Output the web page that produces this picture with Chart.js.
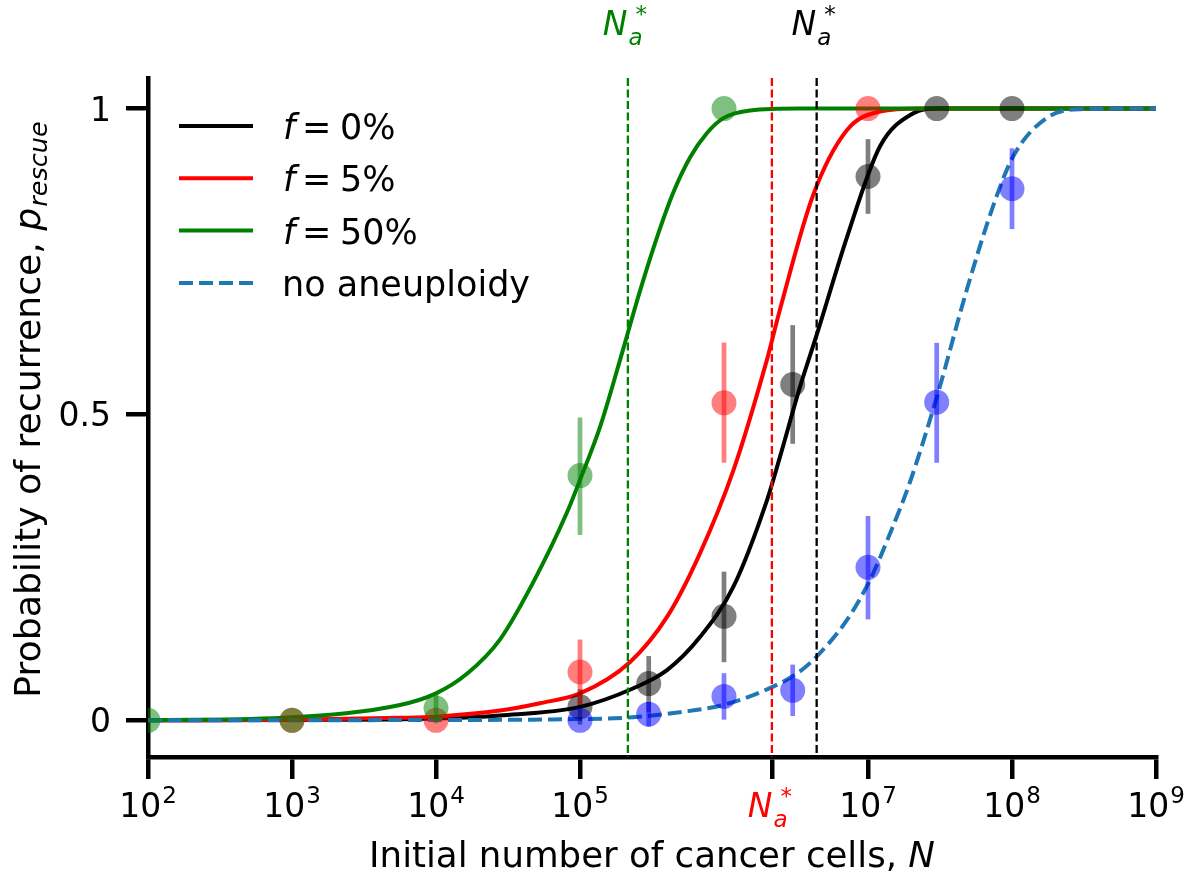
<!DOCTYPE html>
<html><head><meta charset="utf-8">
<script src="https://cdn.jsdelivr.net/npm/chart.js@4.4.1/dist/chart.umd.min.js"></script>
<style>html,body{margin:0;padding:0;background:#fff}</style>
</head><body>
<canvas id="c" width="1195" height="879"></canvas>
<script>
const FONT = '"DejaVu Sans", sans-serif';

// ---- fitted curves (N, p) ----
const curveF0_N = [1e2, 1e3, 1e4, 2.78e4, 1e5, 2.33e5, 4.02e5, 6.81e5, 1.16e6, 1.99e6, 2.45e6, 3.37e6, 4.43e6, 7.15e6, 1.21e7, 2.05e7, 3e7, 1e8, 1e9];
const curveF0_P = [0.0, 0.0005, 0.003, 0.008, 0.022, 0.052, 0.082, 0.136, 0.218, 0.36, 0.431, 0.545, 0.632, 0.79, 0.938, 0.992, 1.0, 1.0, 1.0];

const curveF5_N = [1e2, 1e3, 5.62e3, 1e4, 2.78e4, 5.27e4, 1e5, 2.22e5, 4.02e5, 6.81e5, 1.16e6, 1.99e6, 2.45e6, 4.15e6, 7.15e6, 1.21e7, 2.3e7, 1e8, 1e9];
const curveF5_P = [0.0, 0.001, 0.004, 0.006, 0.016, 0.028, 0.044, 0.095, 0.169, 0.273, 0.408, 0.59, 0.672, 0.858, 0.965, 0.995, 1.0, 1.0, 1.0];

const curveF50_N = [1e2, 1e3, 5.62e3, 1e4, 1.64e4, 2.78e4, 4.72e4, 8.13e4, 1e5, 1.38e5, 1.99e5, 2.61e5, 3.43e5, 4.43e5, 5.81e5, 7.62e5, 9.84e5, 1.52e6, 3.37e6, 1e7, 1e8, 1e9];
const curveF50_P = [0.0, 0.005, 0.025, 0.044, 0.076, 0.132, 0.225, 0.34, 0.393, 0.48, 0.606, 0.702, 0.79, 0.862, 0.92, 0.96, 0.984, 0.997, 1.0, 1.0, 1.0, 1.0];

const curveNoAn_N = [1e2, 1e4, 1e5, 2.33e5, 5.62e5, 9.84e5, 2.19e6, 3.37e6, 4.43e6, 7.15e6, 1.03e7, 1.42e7, 1.96e7, 3.01e7, 4.87e7, 7.38e7, 1.02e8, 1.75e8, 2.96e8, 5.62e8, 1e9];
const curveNoAn_P = [0.0, 0.0005, 0.002, 0.005, 0.015, 0.025, 0.055, 0.08, 0.105, 0.164, 0.229, 0.305, 0.39, 0.529, 0.705, 0.84, 0.922, 0.985, 0.999, 1.0, 1.0];

// ---- simulation points with error bars ----
const ptsF0_N  = [1e5, 3e5, 1e6, 3e6, 1e7, 3e7, 1e8];
const ptsF0_P  = [0.022, 0.06, 0.17, 0.549, 0.889, 1.0, 1.0];
const ptsF0_Lo = [-0.007, 0.013, 0.095, 0.452, 0.828, 1.0, 1.0];
const ptsF0_Hi = [0.051, 0.105, 0.243, 0.646, 0.95, 1.0, 1.0];

const ptsF5_N  = [1e3, 1e4, 1e5, 1e6, 1e7];
const ptsF5_P  = [0.0, 0.0, 0.079, 0.519, 1.0];
const ptsF5_Lo = [0.0, 0.0, 0.026, 0.421, 1.0];
const ptsF5_Hi = [0.0, 0.0, 0.132, 0.6175, 1.0];

const ptsF50_N  = [1e2, 1e3, 1e4, 1e5, 1e6];
const ptsF50_P  = [0.0, 0.0, 0.02, 0.40, 1.0];
const ptsF50_Lo = [0.0, 0.0, -0.005, 0.303, 1.0];
const ptsF50_Hi = [0.0, 0.0, 0.045, 0.495, 1.0];

const ptsNoAn_N  = [1e5, 3e5, 1e6, 3e6, 1e7, 3e7, 1e8];
const ptsNoAn_P  = [0.0, 0.01, 0.039, 0.049, 0.25, 0.52, 0.869];
const ptsNoAn_Lo = [0.0, -0.01, 0.001, 0.007, 0.165, 0.421, 0.803];
const ptsNoAn_Hi = [0.0, 0.03, 0.077, 0.091, 0.334, 0.617, 0.935];

// ---- thresholds N_a* ----
const naStarF50 = 2.15e5;
const naStarF5  = 2.15e6;
const naStarF0  = 4.4e6;

// ---- ticks ----
const xTickValues = [1e2, 1e3, 1e4, 1e5, naStarF5, 1e7, 1e8, 1e9];
const xTickExponents = ['2', '3', '4', '5', null, '7', '8', '9'];
const yTickValues = [0, 0.5, 1];
const yTickLabels = ['0', '0.5', '1'];

const legendLabels = ['0%', '5%', '50%', 'no aneuploidy'];

function zip(N, P) { return N.map((n, i) => ({x: n, y: P[i]})); }

const errSpecs = {};
function curveDS(N, P, color, order, dash) {
  return {type: 'line', data: zip(N, P), borderColor: color, borderWidth: 4, pointRadius: 0,
    cubicInterpolationMode: 'monotone', fill: false, order: order, clip: 0,
    borderDash: dash || [], borderCapStyle: 'butt'};
}
function ptsDS(N, P, color, order) {
  return {type: 'line', data: zip(N, P), showLine: false, pointRadius: 12.5, pointBorderWidth: 0,
    pointBackgroundColor: color, borderColor: color, backgroundColor: color, order: order, clip: 0};
}

const datasets = [
  curveDS(curveF0_N, curveF0_P, '#000000', 13),
  curveDS(curveF5_N, curveF5_P, '#ff0000', 12),
  curveDS(curveF50_N, curveF50_P, '#008000', 11),
  curveDS(curveNoAn_N, curveNoAn_P, '#1f77b4', 10, [14, 6]),
  ptsDS(ptsF0_N, ptsF0_P, 'rgba(0,0,0,0.5)', 4),
  ptsDS(ptsF5_N, ptsF5_P, 'rgba(255,0,0,0.5)', 3),
  ptsDS(ptsF50_N, ptsF50_P, 'rgba(0,128,0,0.5)', 2),
  ptsDS(ptsNoAn_N, ptsNoAn_P, 'rgba(0,0,255,0.5)', 1),
];
errSpecs[4] = {N: ptsF0_N, lo: ptsF0_Lo, hi: ptsF0_Hi, color: 'rgba(0,0,0,0.5)', first: true};
errSpecs[5] = {N: ptsF5_N, lo: ptsF5_Lo, hi: ptsF5_Hi, color: 'rgba(255,0,0,0.5)'};
errSpecs[6] = {N: ptsF50_N, lo: ptsF50_Lo, hi: ptsF50_Hi, color: 'rgba(0,128,0,0.5)'};
errSpecs[7] = {N: ptsNoAn_N, lo: ptsNoAn_Lo, hi: ptsNoAn_Hi, color: 'rgba(0,0,255,0.5)'};

function setFont(ctx, size, italic) { ctx.font = (italic ? 'italic ' : '') + size + 'px ' + FONT; }
function txt(ctx, s, x, y, size, italic, color, align) {
  setFont(ctx, size, italic); ctx.fillStyle = color; ctx.textAlign = align || 'left';
  ctx.textBaseline = 'alphabetic'; ctx.fillText(s, x, y); return ctx.measureText(s).width;
}
function drawNaStar(ctx, cx, b, color) {
  setFont(ctx, 33, true); const wN = ctx.measureText('N').width;
  setFont(ctx, 23, false); const wS = ctx.measureText('*').width;
  const x0 = cx - (wN + 8 + wS) / 2;
  txt(ctx, 'N', x0, b, 33, true, color);
  txt(ctx, 'a', x0 + wN + 1, b + 10, 23, true, color);
  txt(ctx, '*', x0 + wN + 8, b - 13, 23, false, color);
}
function drawPow10(ctx, cx, b, e) {
  setFont(ctx, 33, false); const w10 = ctx.measureText('10').width;
  setFont(ctx, 23, false); const we = ctx.measureText(e).width;
  const x0 = cx - (w10 + we + 1) / 2;
  txt(ctx, '10', x0, b, 33, false, '#000');
  txt(ctx, e, x0 + w10 + 1, b - 14, 23, false, '#000');
}

function drawVLines(chart) {
  const ctx = chart.ctx, xs = chart.scales.x, a = chart.chartArea;
  [[naStarF50, '#008000'], [naStarF5, '#ff0000'], [naStarF0, '#000000']].forEach(([v, c]) => {
    const x = xs.getPixelForValue(v);
    ctx.save(); ctx.strokeStyle = c; ctx.lineWidth = 2.3; ctx.setLineDash([8, 3.5]);
    ctx.beginPath(); ctx.moveTo(x, a.top); ctx.lineTo(x, a.bottom); ctx.stroke(); ctx.restore();
  });
}
function drawErr(chart, spec) {
  const ctx = chart.ctx, xs = chart.scales.x, ys = chart.scales.y;
  ctx.save(); ctx.strokeStyle = spec.color; ctx.lineWidth = 4.7; ctx.lineCap = 'butt';
  spec.N.forEach((n, i) => {
    if (spec.hi[i] - spec.lo[i] <= 0) return;
    const x = xs.getPixelForValue(n);
    ctx.beginPath(); ctx.moveTo(x, ys.getPixelForValue(spec.lo[i])); ctx.lineTo(x, ys.getPixelForValue(spec.hi[i])); ctx.stroke();
  });
  ctx.restore();
}

const custom = {
  id: 'custom',
  beforeDatasetDraw(chart, args) {
    const spec = errSpecs[args.index];
    if (!spec) return;
    if (spec.first) drawVLines(chart);
    drawErr(chart, spec);
  },
  afterDraw(chart) {
    const ctx = chart.ctx, xs = chart.scales.x, ys = chart.scales.y;
    ctx.save();
    xTickValues.forEach((v, i) => {
      const x = xs.getPixelForValue(v);
      if (xTickExponents[i] === null) drawNaStar(ctx, x - 2, 817, '#ff0000');
      else drawPow10(ctx, x, 817, xTickExponents[i]);
    });
    yTickValues.forEach((v, i) => { txt(ctx, yTickLabels[i], 111, ys.getPixelForValue(v) + 12, 33, false, '#000', 'right'); });
    drawNaStar(ctx, xs.getPixelForValue(naStarF50) - 3, 35, '#008000');
    drawNaStar(ctx, xs.getPixelForValue(naStarF0) - 3, 35, '#000000');
    // x title
    const TS = 35.6;
    const xa = 'Initial number of cancer cells, ';
    setFont(ctx, TS, false); const w1 = ctx.measureText(xa).width;
    setFont(ctx, TS, true); const w2 = ctx.measureText('N').width;
    const cx = (chart.chartArea.left + chart.chartArea.right) / 2;
    let x0 = cx - (w1 + w2) / 2;
    txt(ctx, xa, x0, 867, TS, false, '#000');
    txt(ctx, 'N', x0 + w1, 867, TS, true, '#000');
    // y title
    const YS = 36.2;
    ctx.save(); ctx.translate(40, 410); ctx.rotate(-Math.PI / 2);
    const ya = 'Probability of recurrence, ';
    setFont(ctx, YS, false); const a1 = ctx.measureText(ya).width;
    setFont(ctx, YS, true); const a2 = ctx.measureText('p').width;
    setFont(ctx, 25.5, true); const a3 = ctx.measureText('rescue').width;
    let s = -(a1 + a2 + a3) / 2;
    txt(ctx, ya, s, 0, YS, false, '#000');
    txt(ctx, 'p', s + a1, 0, YS, true, '#000');
    txt(ctx, 'rescue', s + a1 + a2 + 1, 7, 25.5, true, '#000');
    ctx.restore();
    // legend
    const LS = 35;
    const lcol = ['#000000', '#ff0000', '#008000', '#1f77b4'];
    legendLabels.forEach((lab, i) => {
      const y = 126 + i * 52.3;
      ctx.save(); ctx.strokeStyle = lcol[i]; ctx.lineWidth = 4; ctx.lineCap = 'butt';
      if (i === 3) ctx.setLineDash([14, 6]);
      ctx.beginPath(); ctx.moveTo(179, y); ctx.lineTo(253, y); ctx.stroke(); ctx.restore();
      if (i < 3) {
        txt(ctx, 'f', 283, y + 13, LS, true, '#000');
        txt(ctx, '=', 302, y + 13, LS, false, '#000');
        txt(ctx, lab, 340, y + 13, LS, false, '#000');
      } else {
        txt(ctx, lab, 282, y + 13, LS, false, '#000');
      }
    });
    ctx.restore();
  }
};

Chart.defaults.font.family = FONT;
new Chart(document.getElementById('c'), {
  type: 'line',
  data: {datasets: datasets},
  options: {
    responsive: false, animation: false, devicePixelRatio: 1, events: [],
    layout: {padding: {top: 78, right: 39, left: 0, bottom: 0}},
    plugins: {legend: {display: false}, tooltip: {enabled: false}, title: {display: false}},
    scales: {
      x: {type: 'logarithmic', min: 1e2, max: 1e9, position: 'bottom',
        afterBuildTicks: (s) => { s.ticks = xTickValues.map(v => ({value: v})); },
        afterFit: (s) => { s.height = 122; },
        ticks: {display: false},
        grid: {display: true, drawOnChartArea: false, drawTicks: true, tickLength: 22, color: '#000', lineWidth: 4.5},
        border: {display: true, color: '#000', width: 4.5}},
      y: {type: 'linear', min: -0.06, max: 1.05, position: 'left',
        afterBuildTicks: (s) => { s.ticks = yTickValues.map(v => ({value: v})); },
        afterFit: (s) => { s.width = 148; },
        ticks: {display: false},
        grid: {display: true, drawOnChartArea: false, drawTicks: true, tickLength: 22, color: '#000', lineWidth: 4.5},
        border: {display: true, color: '#000', width: 4.5}}
    }
  },
  plugins: [custom]
});
</script>
</body></html>
